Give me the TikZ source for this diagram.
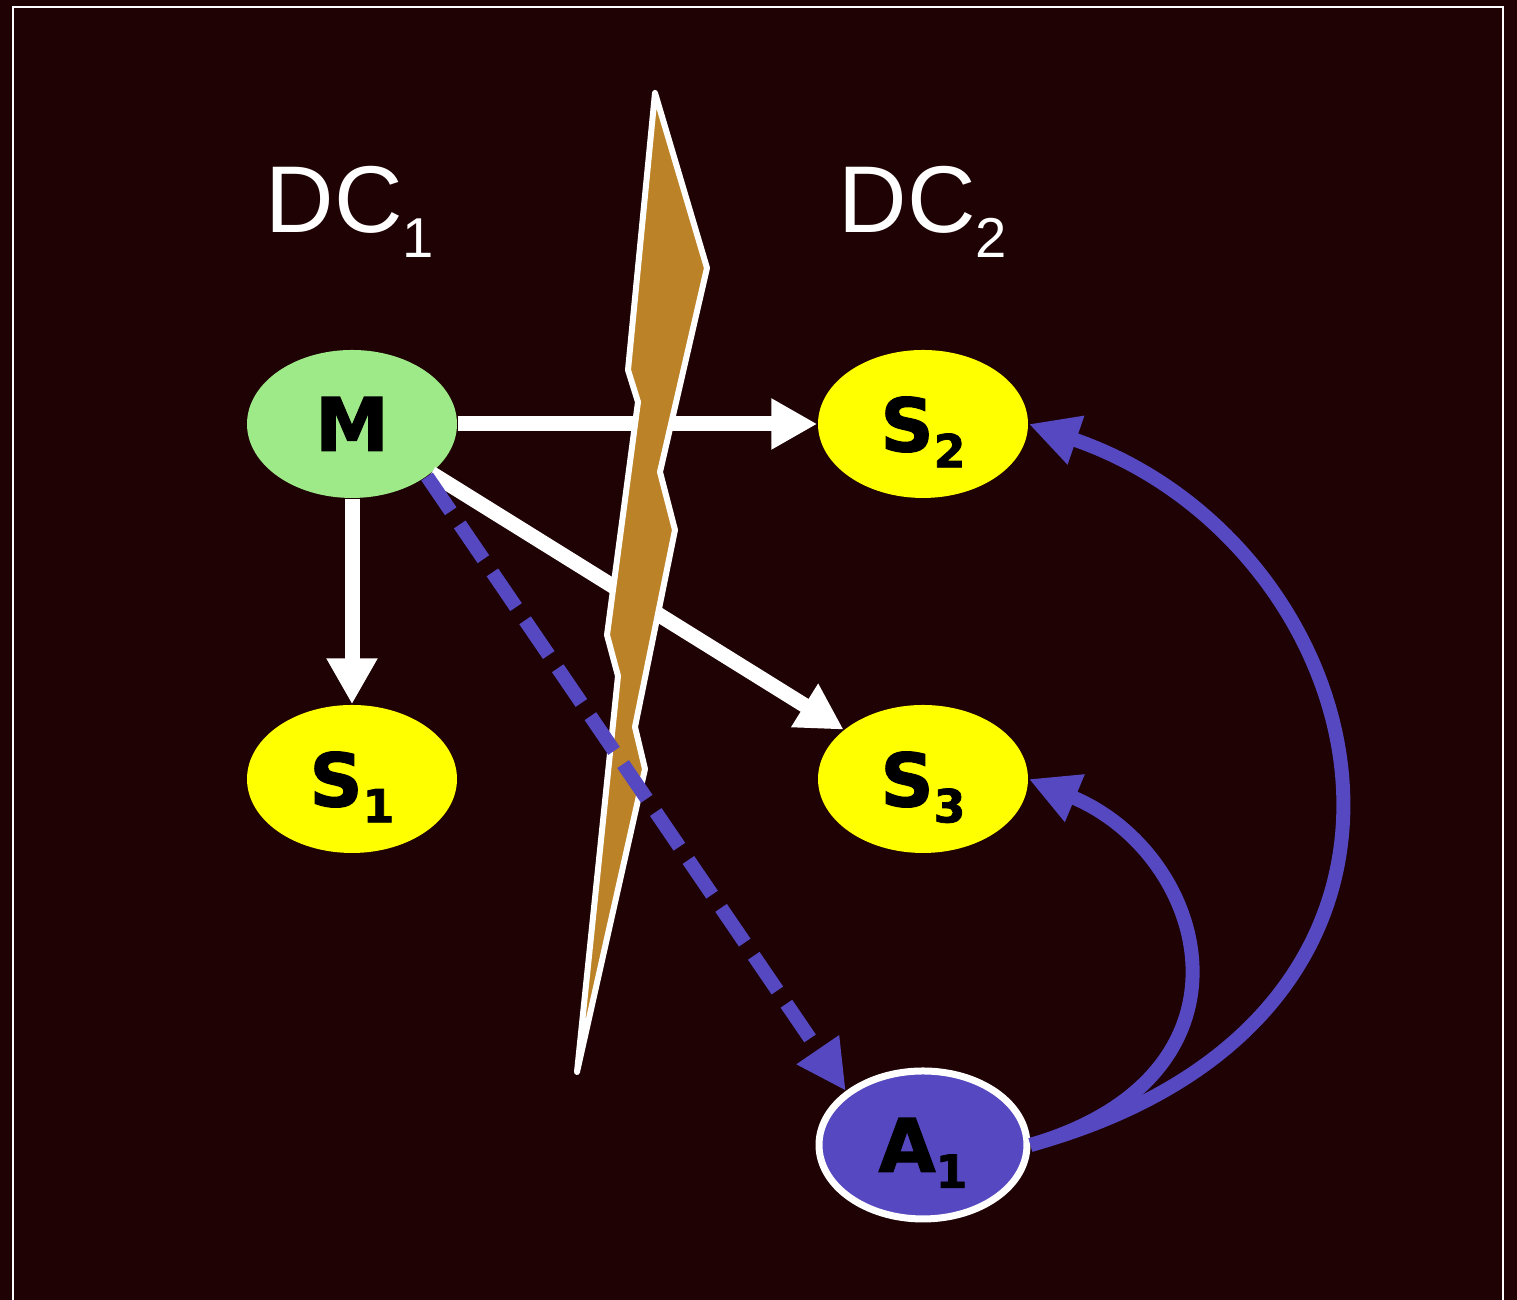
\documentclass[tikz,border=0pt]{standalone}
\usepackage{fontspec}
\setmainfont{Liberation Sans}
\newfontfamily\heavyfont[BoldFeatures={FakeBold=1.6}]{DejaVu Sans}
\usetikzlibrary{arrows.meta,shapes.geometric}
\definecolor{bgred}{RGB}{30,2,4}
\definecolor{mgreen}{RGB}{159,234,136}
\definecolor{syellow}{RGB}{255,255,0}
\definecolor{apurple}{RGB}{85,72,192}
\definecolor{boltbrown}{RGB}{188,130,40}
\newcommand{\dcsub}[1]{\raisebox{-0.25cm}{\fontsize{16}{16}\selectfont #1}}
\newcommand{\nsub}[1]{\raisebox{-0.16cm}{\fontsize{13}{13}\selectfont #1}}

\begin{document}
\begin{tikzpicture}[
    blob/.style={ellipse, minimum width=2.1cm, minimum height=1.48cm, inner sep=0pt,
      text depth=0pt, font=\heavyfont\bfseries\fontsize{21}{22}\selectfont},
    slave/.style={blob, fill=syellow},
    wire/.style={white, line width=0.15cm, -{Triangle[length=4.6mm,width=4.8mm]}},
    link/.style={apurple, line width=0.14cm, -{Triangle[length=5mm,width=4.8mm]}},
    dc/.style={white, anchor=base, font=\fontsize{27}{30}\selectfont}
  ]
  \path[use as bounding box] (0,0) rectangle (15.17,13);
  \clip (0,0) rectangle (15.17,13);
  \fill[bgred] (0,0) rectangle (15.17,13);
  \draw[white, line width=0.02cm] (0.13,-1) rectangle (15.03,12.93);

  \node[blob, fill=mgreen] (M) at (3.52,8.76) {M};
  \node[slave, right of=M, xshift=4.71cm] (S2) {S\nsub{2}};
  \node[slave, below of=M, yshift=-2.55cm] (S1) {S\nsub{1}};
  \node[slave, below of=S2, yshift=-2.55cm] (S3) {S\nsub{3}};
  \node[blob, fill=apurple, draw=white, line width=0.07cm, minimum width=2.08cm,
    below of=S3, yshift=-2.66cm] (A1) {A\nsub{1}};

  \node[dc] (DC1) at (3.50,10.67) {DC\dcsub{1}};
  \node[dc] (DC2) at (9.23,10.67) {DC\dcsub{2}};

  \draw[wire] (M) -- (S2);
  \draw[wire] (M) -- (S1);
  \draw[wire] (M) -- (S3);

  % the split between the two data centres
  \draw[white, line width=0.06cm, line join=round, fill=boltbrown]
    (6.55,12.07) -- (7.07,10.32) -- (6.60,8.28) -- (6.75,7.70) -- (6.35,5.73)
    -- (6.45,5.31) -- (5.77,2.28) -- (6.18,6.24) -- (6.07,6.65) -- (6.38,8.98)
    -- (6.28,9.30) -- cycle;

  \draw[link, dash pattern=on 0.42cm off 0.16cm] (M.-35) -- (A1.145);
  \draw[link] (A1.east) .. controls +(2.4,0.7) and +(1.8,-0.75) .. (S3.east);
  \draw[link] (A1.east) .. controls +(4.7,1.3) and +(3.5,-1.2) .. (S2.east);
\end{tikzpicture}
\end{document}
